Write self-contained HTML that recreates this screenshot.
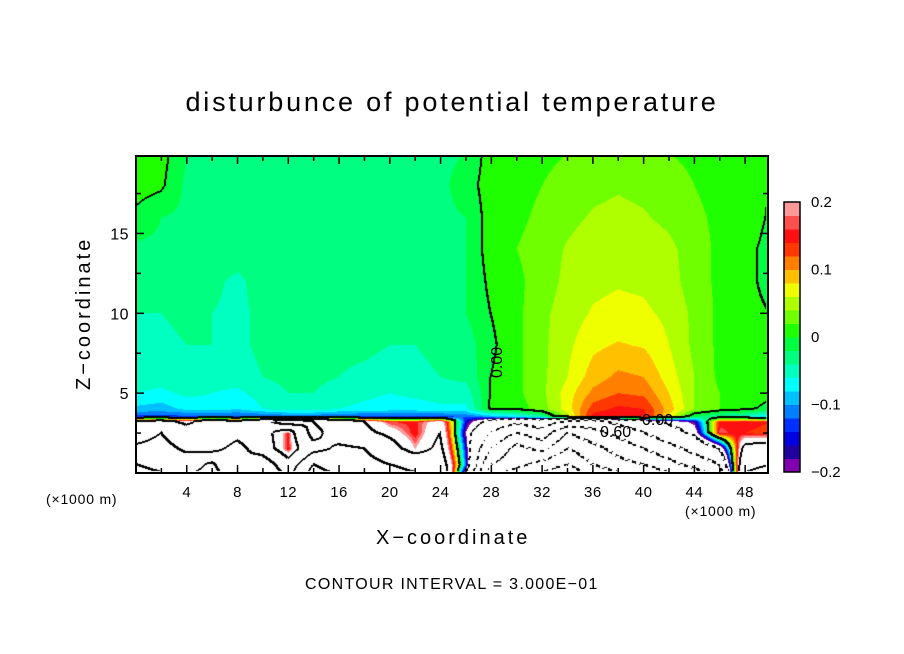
<!DOCTYPE html>
<html><head><meta charset="utf-8">
<style>
body{margin:0;background:#fff;}
#wrap{position:relative;width:904px;height:654px;background:#fff;font-family:"Liberation Sans",sans-serif;overflow:hidden;}
.t{position:absolute;white-space:nowrap;color:#000;}
</style></head><body>
<div id="wrap">
<div class="t" style="left:0;width:904px;text-align:center;top:87px;font-size:27px;letter-spacing:2.8px;">disturbunce of potential temperature</div>
<canvas id="cv" width="904" height="654" style="position:absolute;left:0;top:0"></canvas>
<svg id="sv" width="904" height="654" style="position:absolute;left:0;top:0"></svg>
<div class="t" style="left:376px;top:527px;font-size:20px;letter-spacing:3px;">X−coordinate</div>
<div class="t" style="left:73px;top:390px;font-size:20px;letter-spacing:3px;transform:rotate(-90deg);transform-origin:0 0;">Z−coordinate</div>
<div class="t" style="left:46px;top:491px;font-size:14px;letter-spacing:0.8px;">(×1000 m)</div>
<div class="t" style="left:685px;top:503px;font-size:14px;letter-spacing:0.8px;">(×1000 m)</div>
<div class="t" style="left:305px;top:576px;font-size:16px;letter-spacing:1.3px;">CONTOUR INTERVAL = 3.000E−01</div>
</div>
<script>
const xs=[0,2,4,6,8,10,12,14,16,18,20,22,24,26,28,30,32,34,36,38,40,42,44,46,48,50];
const zs=[20,18,16,14,12,10,8,6,5,4,3.5,3.2,2.5,1.5,0.5,0];
const row20=[0.01,0.01,-0.02,-0.025,-0.025,-0.025,-0.025,-0.025,-0.025,-0.025,-0.025,-0.025,-0.025,-0.02,0.01,0.01,0.015,0.02,0.025,0.03,0.025,0.02,0.015,0.01,0.01,0.01];
const row18=[0.01,0.005,-0.025,-0.025,-0.025,-0.025,-0.025,-0.025,-0.025,-0.025,-0.025,-0.025,-0.025,-0.01,0.01,0.012,0.02,0.028,0.035,0.038,0.035,0.03,0.02,0.012,0.01,0.0];
const row16=[-0.005,-0.02,-0.025,-0.025,-0.025,-0.025,-0.025,-0.025,-0.025,-0.025,-0.025,-0.025,-0.025,-0.02,0.01,0.015,0.025,0.035,0.042,0.045,0.042,0.035,0.025,0.015,0.01,-0.002];
const row14=[-0.025,-0.025,-0.025,-0.025,-0.028,-0.025,-0.022,-0.022,-0.025,-0.025,-0.025,-0.025,-0.025,-0.02,0.01,0.02,0.03,0.042,0.05,0.055,0.052,0.045,0.03,0.015,0.005,-0.005];
const row12=[-0.035,-0.035,-0.035,-0.035,-0.045,-0.03,-0.022,-0.022,-0.025,-0.025,-0.025,-0.025,-0.025,-0.02,0.005,0.015,0.03,0.045,0.055,0.058,0.056,0.048,0.03,0.015,0.005,-0.005];
const row10=[-0.04,-0.04,-0.035,-0.04,-0.045,-0.035,-0.03,-0.022,-0.025,-0.025,-0.025,-0.025,-0.025,-0.02,0.0,0.015,0.035,0.05,0.062,0.066,0.064,0.055,0.035,0.015,0.005,0.0];
const row8=[-0.045,-0.045,-0.04,-0.04,-0.045,-0.035,-0.03,-0.03,-0.035,-0.035,-0.04,-0.04,-0.035,-0.03,-0.005,0.015,0.035,0.055,0.075,0.082,0.078,0.06,0.035,0.015,0.005,0.0];
const row6=[-0.05,-0.05,-0.045,-0.05,-0.05,-0.04,-0.035,-0.035,-0.04,-0.045,-0.05,-0.045,-0.04,-0.035,0.0,0.015,0.035,0.06,0.09,0.105,0.1,0.07,0.04,0.015,0.005,0.005];
const row5=[-0.06,-0.065,-0.055,-0.06,-0.065,-0.05,-0.04,-0.04,-0.05,-0.055,-0.06,-0.055,-0.05,-0.05,0.0,0.015,0.035,0.07,0.105,0.12,0.115,0.08,0.04,0.02,0.01,0.01];
const row4=[-0.085,-0.09,-0.075,-0.07,-0.08,-0.06,-0.05,-0.05,-0.06,-0.065,-0.07,-0.07,-0.065,-0.065,0.005,0.01,0.03,0.07,0.13,0.145,0.14,0.09,0.04,0.02,0.01,-0.01];
const row35=[-0.13,-0.13,-0.13,-0.13,-0.13,-0.13,-0.12,-0.12,-0.13,-0.13,-0.13,-0.13,-0.13,-0.12,-0.1,-0.08,-0.05,0.05,0.15,0.16,0.15,0.08,-0.02,-0.05,-0.06,-0.08];
const row32=[0.3,0.35,0.25,0.4,0.3,0.5,0.8,0.6,0.4,0.3,0.16,0.15,0.25,-0.15,-0.35,-0.5,-0.4,-0.6,-0.7,-0.5,-0.35,-0.25,-0.18,0.15,0.16,0.14];
const row25=[0.45,0.6,0.4,0.35,0.5,0.4,0.15,0.7,0.45,0.35,0.25,0.14,0.3,-0.2,-0.6,-0.9,-0.7,-1.2,-1.0,-0.8,-0.6,-0.4,-0.25,0.17,0.14,0.12];
const row15=[0.65,0.7,0.55,0.5,0.7,0.45,0.14,0.5,0.65,0.6,0.4,0.2,0.35,-0.15,-0.9,-1.3,-1.1,-1.5,-1.3,-1.1,-0.9,-0.7,-0.5,-0.3,0.35,0.4];
const row05=[0.9,0.8,0.75,0.95,0.6,0.8,0.4,0.9,0.75,0.7,0.6,0.5,0.45,-0.12,-1.2,-1.4,-1.6,-1.8,-1.5,-1.3,-1.2,-1.0,-0.8,-0.6,0.5,0.6];
const row0=[1.0,0.9,0.85,1.0,0.7,0.9,0.5,1.0,0.85,0.8,0.7,0.6,0.55,-0.25,-1.4,-1.6,-1.8,-2.0,-1.7,-1.5,-1.4,-1.2,-1.0,-0.8,0.6,0.7];
const field=[row20,row18,row16,row14,row12,row10,row8,row6,row5,row4,row35,row32,row25,row15,row05,row0];
const cbarColors=["#8000b0","#2000a0","#0000e0","#0030ff","#0080ff","#00c0ff","#00ffff","#00ffc0","#00ff80","#00ff40","#20ff00","#70ff00","#b0ff00","#f0ff00","#ffc000","#ff8000","#ff3800","#ff1010","#ff5050","#ff9999"];
const cbarTicks=[-0.2,-0.1,0,0.1,0.2];
const cbarTickLabels=["−0.2","−0.1","0","0.1","0.2"];
const xTicks=[4,8,12,16,20,24,28,32,36,40,44,48];
const yTicks=[5,10,15];

const PL=136,PR=768,PT=156,PB=473,XMAX=49.8,ZMAX=19.85;
const sx=x=>PL+x/XMAX*(PR-PL), sz=z=>PB-z/ZMAX*(PB-PT);
function colorFor(v){if(v<-0.2||v>0.2)return null;let i=Math.floor((v+0.2)/0.02);if(i>19)i=19;if(i<0)i=0;return cbarColors[i];}
function sample(x,z){
  let ci=Math.min(xs.length-2,Math.max(0,Math.floor(x/2)));let tx=(x-xs[ci])/(xs[ci+1]-xs[ci]);
  let ri=0;while(ri<zs.length-2&&z<zs[ri+1])ri++;
  let tz=(zs[ri]-z)/(zs[ri]-zs[ri+1]);tz=Math.max(0,Math.min(1,tz));tx=Math.max(0,Math.min(1,tx));
  return field[ri][ci]*(1-tx)*(1-tz)+field[ri][ci+1]*tx*(1-tz)+field[ri+1][ci]*(1-tx)*tz+field[ri+1][ci+1]*tx*tz;
}
const cv=document.getElementById('cv'),ctx=cv.getContext('2d');
const W=PR-PL,H=PB-PT;const img=ctx.createImageData(W,H);
const vals=new Array(W*H);
for(let j=0;j<H;j++)for(let i=0;i<W;i++){const x=(i+0.5)/W*XMAX,z=(H-j-0.5)/H*ZMAX;vals[j*W+i]=sample(x,z);}
function hex(c){return [parseInt(c.slice(1,3),16),parseInt(c.slice(3,5),16),parseInt(c.slice(5,7),16)];}
const lev=v=>Math.floor(v/0.3);
for(let j=0;j<H;j++)for(let i=0;i<W;i++){
  const v=vals[j*W+i];const c=colorFor(v);let rgb=c?hex(c):[255,255,255];
  let edge=false;
  if(i<W-2&&j<H-2){const b=vals[j*W+i+2],d=vals[(j+2)*W+i];
    if(lev(v)!==lev(b)||lev(v)!==lev(d))edge=true;}
  if(edge&&v<-0.15&&((i>>2)+(j>>2))%2===1)edge=false;
  if(edge)rgb=[0,0,0];
  const k=(j*W+i)*4;img.data[k]=rgb[0];img.data[k+1]=rgb[1];img.data[k+2]=rgb[2];img.data[k+3]=255;}
ctx.putImageData(img,PL,PT);

const NS="http://www.w3.org/2000/svg",sv=document.getElementById('sv');
function el(t,a){const e=document.createElementNS(NS,t);for(const k in a)e.setAttribute(k,a[k]);sv.appendChild(e);return e;}
const frame=el('rect',{x:PL,y:PT,width:W,height:H,fill:'none',stroke:'#000','stroke-width':2});


for(let x=2;x<XMAX;x+=2){const maj=xTicks.includes(x);const L=maj?8:5;
  const t1=el('line',{x1:sx(x),x2:sx(x),y1:PB,y2:PB-L,stroke:'#000','stroke-width':1.5});
  
  
  el('line',{x1:sx(x),x2:sx(x),y1:PT,y2:PT+L,stroke:'#000','stroke-width':1.5});}
xTicks.forEach(x=>{const t=el('text',{x:sx(x),y:497,'font-size':15,'text-anchor':'middle','font-family':'Liberation Sans, sans-serif','letter-spacing':'0.5'});t.textContent=x;
  
  });
for(let z=2.5;z<ZMAX;z+=2.5){const maj=yTicks.includes(z);const L=maj?8:5;
  el('line',{x1:PL,x2:PL+L,y1:sz(z),y2:sz(z),stroke:'#000','stroke-width':1.5});
  el('line',{x1:PR,x2:PR-L,y1:sz(z),y2:sz(z),stroke:'#000','stroke-width':1.5});}
yTicks.forEach(z=>{const t=el('text',{x:129,y:sz(z)+6,'font-size':16,'text-anchor':'end','font-family':'Liberation Sans, sans-serif','letter-spacing':'0.5'});t.textContent=z;
  
  });
[["0.00",502,378,-90],["0.00",642,425,0],["0.60",600,437,0]].forEach(a=>{const t=el('text',{x:a[1],y:a[2],'font-size':16,'font-family':'Liberation Sans, sans-serif',transform:`rotate(${a[3]} ${a[1]} ${a[2]})`});t.textContent=a[0];
  
  });
const CT=202,CB=472,CL=784,CW=16;const cby=v=>CB-(v+0.2)/0.4*(CB-CT);
cbarColors.forEach((c,i)=>{const v0=-0.2+i*0.02;const r=el('rect',{x:CL,y:cby(v0+0.02),width:CW,height:cby(v0)-cby(v0+0.02)+0.5,fill:c});
  
  });
el('rect',{x:CL,y:CT,width:CW,height:CB-CT,fill:'none',stroke:'#000','stroke-width':1.5});
cbarTicks.forEach((v,i)=>{const t=el('text',{x:811,y:cby(v)+5,'font-size':15,'font-family':'Liberation Sans, sans-serif'});t.textContent=cbarTickLabels[i];
  
  });
</script>
</body></html>
